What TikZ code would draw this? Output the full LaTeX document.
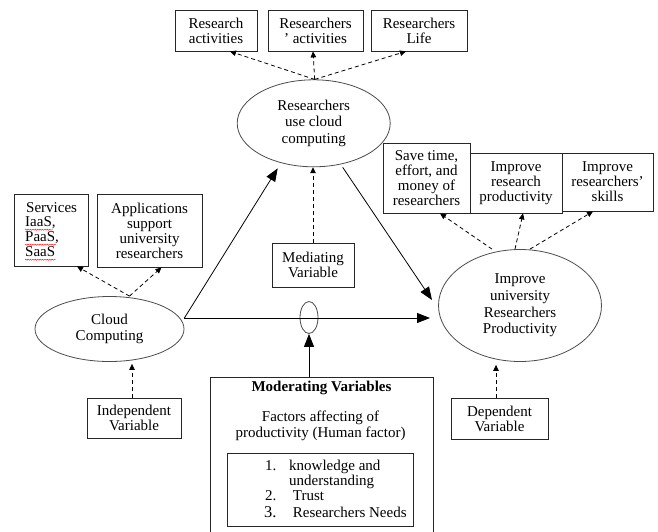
\documentclass[tikz,border=0pt]{standalone}
\usepackage{fontspec}
\setmainfont{Liberation Serif}
\usetikzlibrary{shapes.geometric,arrows.meta,decorations.pathmorphing}
\newcommand\bxfont{\fontsize{15}{15}\selectfont}
\newcommand\elfont{\fontsize{15}{16.6}\selectfont}
\tikzset{
  box/.style={draw=black!85, line width=0.8pt, rectangle, inner sep=0pt, align=center, font=\bxfont},
  ell/.style={draw=black!70, line width=0.8pt, ellipse, inner sep=0pt, align=center, font=\elfont},
  txt/.style={inner sep=0pt, font=\bxfont},
  dasharr/.style={line width=0.8pt, dash pattern=on 4pt off 3pt, -{Triangle[length=6pt,width=5.5pt]}},
  solarr/.style={line width=0.8pt, -{Triangle[length=13pt,width=10pt]}},
  squig/.style={red, line width=0.4pt, decorate, decoration={snake, amplitude=0.6pt, segment length=2.4pt}}
}
\begin{document}
\begin{tikzpicture}[x=1pt,y=-1pt]
\clip (0,0) rectangle (658,531);
\fill[white] (0,0) rectangle (658,531);

% top boxes
\node[box, minimum width=82pt, minimum height=41pt] (ra) at (216,30.5) {Research\\activities};
\node[box, minimum width=95pt, minimum height=41pt] (rsa) at (315.5,30.5) {Researchers\\' activities};
\node[box, minimum width=96pt, minimum height=41pt] (rl) at (419,30.5) {Researchers\\Life};

% ellipses
\node[ell, minimum width=153pt, minimum height=87pt] (rc) at (313.7,123.3) {Researchers\\use cloud\\computing};
\node[ell, minimum width=149pt, minimum height=65pt] (cc) at (109.5,329) {Cloud\\Computing};
\node[ell, minimum width=163pt, minimum height=112pt] (ip) at (520,305.5) {Improve\\university\\Researchers\\Productivity};
\node[ell, minimum width=18pt, minimum height=32pt] (se) at (309,317.5) {};

% middle boxes
\node[box, minimum width=82pt, minimum height=44pt] (med) at (313,265) {Mediating\\Variable};
\node[box, minimum width=87pt, minimum height=70pt] (sv) at (426.5,178) {Save time,\\effort, and\\money of\\researchers};
\node[box, minimum width=92pt, minimum height=60pt] (irp) at (516,183) {Improve\\research\\productivity};
\node[box, minimum width=91pt, minimum height=58pt] (irs) at (607.5,182) {Improve\\researchers'\\skills};

% left boxes
\node[box, minimum width=74pt, minimum height=72pt] (srv) at (51,230) {};
\node[txt, anchor=base west] (s0) at (26,212) {Services};
\node[txt, anchor=base west] (s1) at (25,226.7) {IaaS,};
\node[txt, anchor=base west] (s2) at (25,241.7) {PaaS,};
\node[txt, anchor=base west] (s3) at (25,256.7) {SaaS};
\draw[squig] ([yshift=-3pt]s1.base west) -- ([xshift=-3pt,yshift=-3pt]s1.base east);
\draw[squig] ([yshift=-3pt]s2.base west) -- ([xshift=-3pt,yshift=-3pt]s2.base east);
\draw[squig] ([yshift=-3pt]s3.base west) -- ([yshift=-3pt]s3.base east);
\node[box, minimum width=105pt, minimum height=73pt] (app) at (149.5,230.5) {Applications\\support\\university\\researchers};

% bottom boxes
\node[box, minimum width=94pt, minimum height=40pt] (ind) at (134,418) {Independent\\Variable};
\node[box, minimum width=97pt, minimum height=41pt] (dep) at (499.5,418.5) {Dependent\\Variable};

% moderating box
\node[box, minimum width=223pt, minimum height=170pt] (mv) at (321.5,462) {};
\node[txt, anchor=base, font=\bxfont\bfseries] (mt) at (321.5,391.7) {Moderating Variables};
\node[txt, anchor=base] (f1) at (320.5,421.5) {Factors affecting of};
\node[txt, anchor=base] (f2) at (320.5,437) {productivity (Human factor)};
\node[box, minimum width=186pt, minimum height=73pt] (inr) at (320,489.5) {};
\node[txt, anchor=base west] (n1) at (265,470) {1.};
\node[txt, anchor=base west] (l1) at (289,470) {knowledge and};
\node[txt, anchor=base west] (l1b) at (289,485) {understanding};
\node[txt, anchor=base west] (n2) at (265,500) {2.};
\node[txt, anchor=base west] (l2) at (292.7,500) {Trust};
\node[txt, anchor=base west, font=\fontsize{16.5}{16.5}\selectfont] (n3) at (264,517.7) {3.};
\node[txt, anchor=base west] (l3) at (292.7,517.7) {Researchers Needs};

% dashed connectors from researchers ellipse
\draw[dasharr] ([xshift=1pt]rc.north) -- ([xshift=14pt]ra.south);
\draw[dasharr] ([xshift=1pt]rc.north) -- ([xshift=-2.5pt]rsa.south);
\draw[dasharr] ([xshift=1pt]rc.north) -- ([xshift=-13pt]rl.south);

% dashed connectors from cloud
\draw[dasharr] ([xshift=20pt]cc.north) -- ([xshift=26pt]srv.south);
\draw[dasharr] ([xshift=20pt]cc.north) -- ([xshift=12pt]app.south);

% dashed connectors from improve
\draw[dasharr] ([xshift=-28pt]ip.north) -- ([xshift=13.5pt]sv.south);
\draw[dasharr] ([xshift=-5pt]ip.north) -- ([xshift=7pt]irp.south);
\draw[dasharr] ([xshift=10pt]ip.north) -- ([xshift=-14.5pt]irs.south);

% mediating, independent, dependent
\draw[dasharr] (med.north) -- (med.north |- rc.south);
\draw[dasharr] ([xshift=-2pt]ind.north) -- ([xshift=-2pt,yshift=-2pt]ind.north |- cc.south);
\draw[dasharr] ([xshift=-3.5pt]dep.north) -- ([xshift=-3.5pt,yshift=-3pt]dep.north |- ip.south);

% solid connectors
\coordinate (cs) at ([yshift=11pt]cc.east);
\coordinate (ipend) at ([xshift=-90pt]ip.center);
\draw[solarr] (cs) -- ([xshift=-36pt,yshift=-45pt]rc.center);
\draw[solarr] ([xshift=29pt,yshift=-44pt]rc.center) -- ([xshift=-88pt,yshift=5.5pt]ip.center);
\draw[solarr] (cs) -- (cs -| ipend);
\draw[solarr] (mv.north -| se.south) -- (se.south);
\end{tikzpicture}
\end{document}
